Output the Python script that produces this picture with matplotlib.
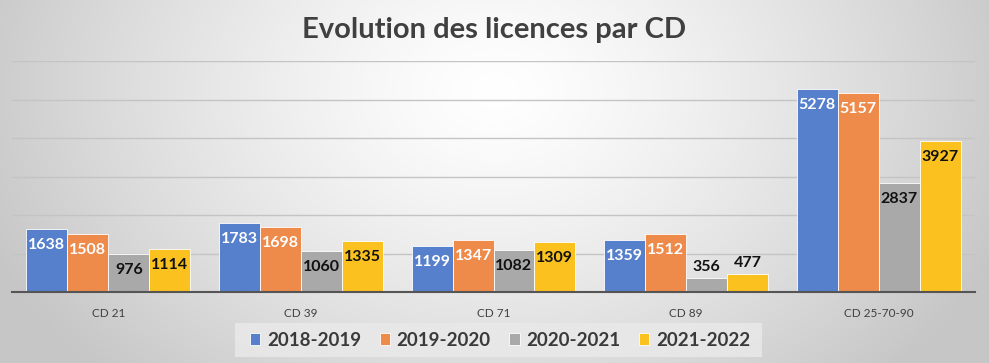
import numpy as np
import matplotlib
matplotlib.use("Agg")
import matplotlib.pyplot as plt
from matplotlib.patches import FancyBboxPatch

categories = ["CD 21", "CD 39", "CD 71", "CD 89", "CD 25-70-90"]
series_names = ["2018-2019", "2019-2020", "2020-2021", "2021-2022"]
v_2018 = [1638, 1783, 1199, 1359, 5278]
v_2019 = [1508, 1698, 1347, 1512, 5157]
v_2020 = [976, 1060, 1082, 356, 2837]
v_2021 = [1114, 1335, 1309, 477, 3927]
series_values = [v_2018, v_2019, v_2020, v_2021]
colors = ["#5680CB", "#EE8A4A", "#A9A9A9", "#FBC21F"]
label_colors = ["white", "white", "#111111", "#111111"]

W, H = 989, 363
fig = plt.figure(figsize=(W / 100, H / 100), dpi=100)

# background radial gradient
bg = fig.add_axes([0, 0, 1, 1], zorder=-10)
yy, xx = np.mgrid[0:H, 0:W]
dx = (xx - W * 0.5) / (W * 0.55)
dy = (yy - H * 0.25) / (H * 1.1)
d = np.sqrt(dx ** 2 + dy ** 2)
val = np.clip(1.0 - 0.22 * d ** 1.3, 0.78, 1.0)
bg.imshow(np.dstack([val, val, val]), aspect="auto", extent=[0, 1, 0, 1], origin="upper")
bg.set_xlim(0, 1); bg.set_ylim(0, 1)
bg.axis("off")

ax = fig.add_axes([12 / W, 1 - 292 / H, (975 - 12) / W, (292 - 61) / H])
ax.patch.set_alpha(0)
ax.set_xlim(-0.5, len(categories) - 0.5)
ax.set_ylim(0, 6000)
px_per_unit = (292 - 61) / 6000.0
x = np.arange(len(categories))
bw = 0.2125
for i, (vals, c, lc) in enumerate(zip(series_values, colors, label_colors)):
    pos = x + (i - 1.5) * bw
    ax.bar(pos, vals, width=bw, color=c, edgecolor="white", linewidth=0.6, zorder=3,
           label=series_names[i])
    for p, v in zip(pos, vals):
        inside = v * px_per_unit > 30
        off = -16 if inside else 11
        ax.annotate(str(v), (p, v), xytext=(0, off), textcoords="offset pixels",
                    ha="center", va="center", fontsize=11.5, fontweight="bold",
                    color=lc, family="Lato", zorder=4)

ax.set_yticks(np.arange(0, 6001, 1000))
ax.yaxis.grid(True, color="#c4c4c4", linewidth=1, zorder=0)
ax.tick_params(axis="y", left=False, labelleft=False)
ax.tick_params(axis="x", bottom=False, pad=8)
ax.set_xticks(x)
ax.set_xticklabels(categories, fontsize=8.5, color="#404040", family="Lato")
for s in ["top", "right", "left"]:
    ax.spines[s].set_visible(False)
ax.spines["bottom"].set_color("#555555")
ax.spines["bottom"].set_linewidth(1.5)
ax.spines["bottom"].set_zorder(5)

fig.text(0.5, 1 - 30 / H, "Evolution des licences par CD", ha="center", va="center",
         fontsize=21, fontweight="bold", color="#404040", family="Lato")

# legend background box
box = FancyBboxPatch((235 / W, 1 - 357 / H), (762 - 235) / W, (357 - 323) / H,
                     boxstyle="square,pad=0", transform=fig.transFigure,
                     facecolor="#e9e9e9", edgecolor="none", alpha=0.85, zorder=1)
fig.patches.append(box)
leg = fig.legend(loc="center", bbox_to_anchor=(500 / W, 1 - 340 / H), ncol=4, frameon=False,
                 prop={"family": "Lato", "weight": "bold", "size": 13.5},
                 handlelength=0.55, handleheight=0.55, handletextpad=0.35, columnspacing=1.0)
for t in leg.get_texts():
    t.set_color("#3a3a3a")

fig.savefig("out.png", dpi=100)
